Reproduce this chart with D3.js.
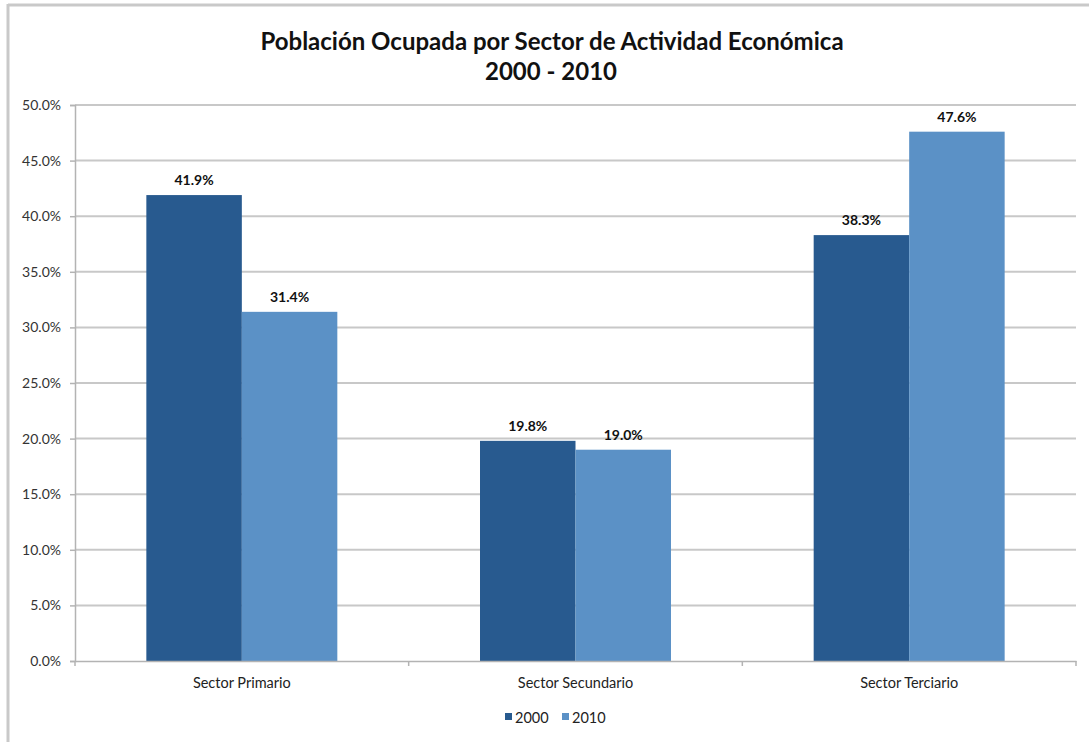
<!DOCTYPE html>
<html>
<head>
<meta charset="utf-8">
<script src="https://cdn.jsdelivr.net/npm/d3@7"></script>
<style>
  html, body { margin: 0; padding: 0; background: #fff; }
  svg { display: block; }
  text { font-family: Lato, "Open Sans", sans-serif; }
</style>
</head>
<body>
<svg id="chart" width="1089" height="742"></svg>
<script>
const categories = ["Sector Primario", "Sector Secundario", "Sector Terciario"];
const seriesNames = ["2000", "2010"];
const values2000 = [41.9, 19.8, 38.3];
const values2010 = [31.4, 19.0, 47.6];
const yTicks = [0, 5, 10, 15, 20, 25, 30, 35, 40, 45, 50];
const titleLines = ["Población Ocupada por Sector de Actividad Económica", "2000 - 2010"];
const colors = ["#285a8f", "#5b91c6"];

const svg = d3.select("#chart");
const W = 1089, H = 742;
const m = { left: 75, right: 1076, top: 105, bottom: 661 };

// outer frame (top & left edges visible)
svg.append("line").attr("x1", 8).attr("x2", W).attr("y1", 5).attr("y2", 5)
  .attr("stroke", "#c9c9c9").attr("stroke-width", 3);
svg.append("line").attr("x1", 8).attr("x2", 8).attr("y1", 4).attr("y2", H)
  .attr("stroke", "#c9c9c9").attr("stroke-width", 3);

// title
svg.append("text").attr("x", 552).attr("y", 50).attr("text-anchor", "middle")
  .attr("font-size", 24).attr("font-weight", "bold").attr("fill", "#111")
  .text(titleLines[0]);
svg.append("text").attr("x", 551).attr("y", 80).attr("text-anchor", "middle")
  .attr("font-size", 24).attr("font-weight", "bold").attr("fill", "#111")
  .text(titleLines[1]);

const y = d3.scaleLinear().domain([0, 50]).range([m.bottom, m.top]);
const x0 = d3.scaleBand().domain(categories).range([m.left, m.right]).paddingInner(0).paddingOuter(0);
const groupFrac = 191 / 333.7;
const x1 = d3.scaleBand().domain(seriesNames)
  .range([0, x0.bandwidth()]).paddingOuter((1 - groupFrac) / 2 / (groupFrac / 2)).paddingInner(0);

// gridlines
svg.append("g").selectAll("line").data(yTicks.filter(t => t > 0)).join("line")
  .attr("x1", m.left).attr("x2", m.right)
  .attr("y1", d => y(d)).attr("y2", d => y(d))
  .attr("stroke", "#c8c8c8").attr("stroke-width", 2);

// y axis
const yAxis = d3.axisLeft(y).tickValues(yTicks).tickSize(5).tickPadding(9)
  .tickFormat(d => d3.format(".1f")(d) + "%");
const gy = svg.append("g").attr("transform", `translate(${m.left},0)`).call(yAxis);
gy.select(".domain").attr("stroke", "#b3b3b3").attr("stroke-width", 1.5);
gy.selectAll(".tick line").attr("stroke", "#b3b3b3").attr("stroke-width", 1.5);
gy.selectAll(".tick text").attr("font-size", 14).attr("fill", "#333")
  .style("font-family", "Lato, 'Open Sans', sans-serif");

// bars
const data = categories.map((c, i) => ({ cat: c, vals: [values2000[i], values2010[i]] }));
const groups = svg.append("g").selectAll("g").data(data).join("g")
  .attr("transform", d => `translate(${x0(d.cat)},0)`);
groups.selectAll("rect").data(d => d.vals.map((v, j) => ({ s: seriesNames[j], v, j }))).join("rect")
  .attr("x", d => x1(d.s)).attr("width", x1.bandwidth())
  .attr("y", d => y(d.v)).attr("height", d => y(0) - y(d.v))
  .attr("fill", d => colors[d.j]);
groups.selectAll("text.val").data(d => d.vals.map((v, j) => ({ s: seriesNames[j], v, j }))).join("text")
  .attr("class", "val")
  .attr("x", d => x1(d.s) + x1.bandwidth() / 2).attr("y", d => y(d.v) - 10)
  .attr("text-anchor", "middle").attr("font-size", 14).attr("font-weight", "bold").attr("fill", "#111")
  .text(d => d3.format(".1f")(d.v) + "%");

// x axis
const xAxis = d3.axisBottom(x0).tickSize(0).tickPadding(17);
const gx = svg.append("g").attr("transform", `translate(0,${m.bottom})`).call(xAxis);
gx.select(".domain").attr("stroke", "#b3b3b3").attr("stroke-width", 1.5);
gx.selectAll(".tick text").attr("font-size", 14.5).attr("fill", "#222")
  .style("font-family", "Lato, 'Open Sans', sans-serif");
// category separators
const seps = [m.left, ...categories.map(c => x0(c) + x0.bandwidth())];
svg.append("g").selectAll("line").data(seps).join("line")
  .attr("x1", d => d).attr("x2", d => d).attr("y1", m.bottom).attr("y2", m.bottom + 5)
  .attr("stroke", "#b3b3b3").attr("stroke-width", 1.5);

// legend
const legend = svg.append("g");
const legX = [505, 562];
seriesNames.forEach((s, i) => {
  legend.append("rect").attr("x", legX[i]).attr("y", 713).attr("width", 7).attr("height", 7)
    .attr("fill", colors[i]);
  legend.append("text").attr("x", legX[i] + 10).attr("y", 723).attr("font-size", 14.5)
    .attr("fill", "#222").text(s);
});
</script>
</body>
</html>
